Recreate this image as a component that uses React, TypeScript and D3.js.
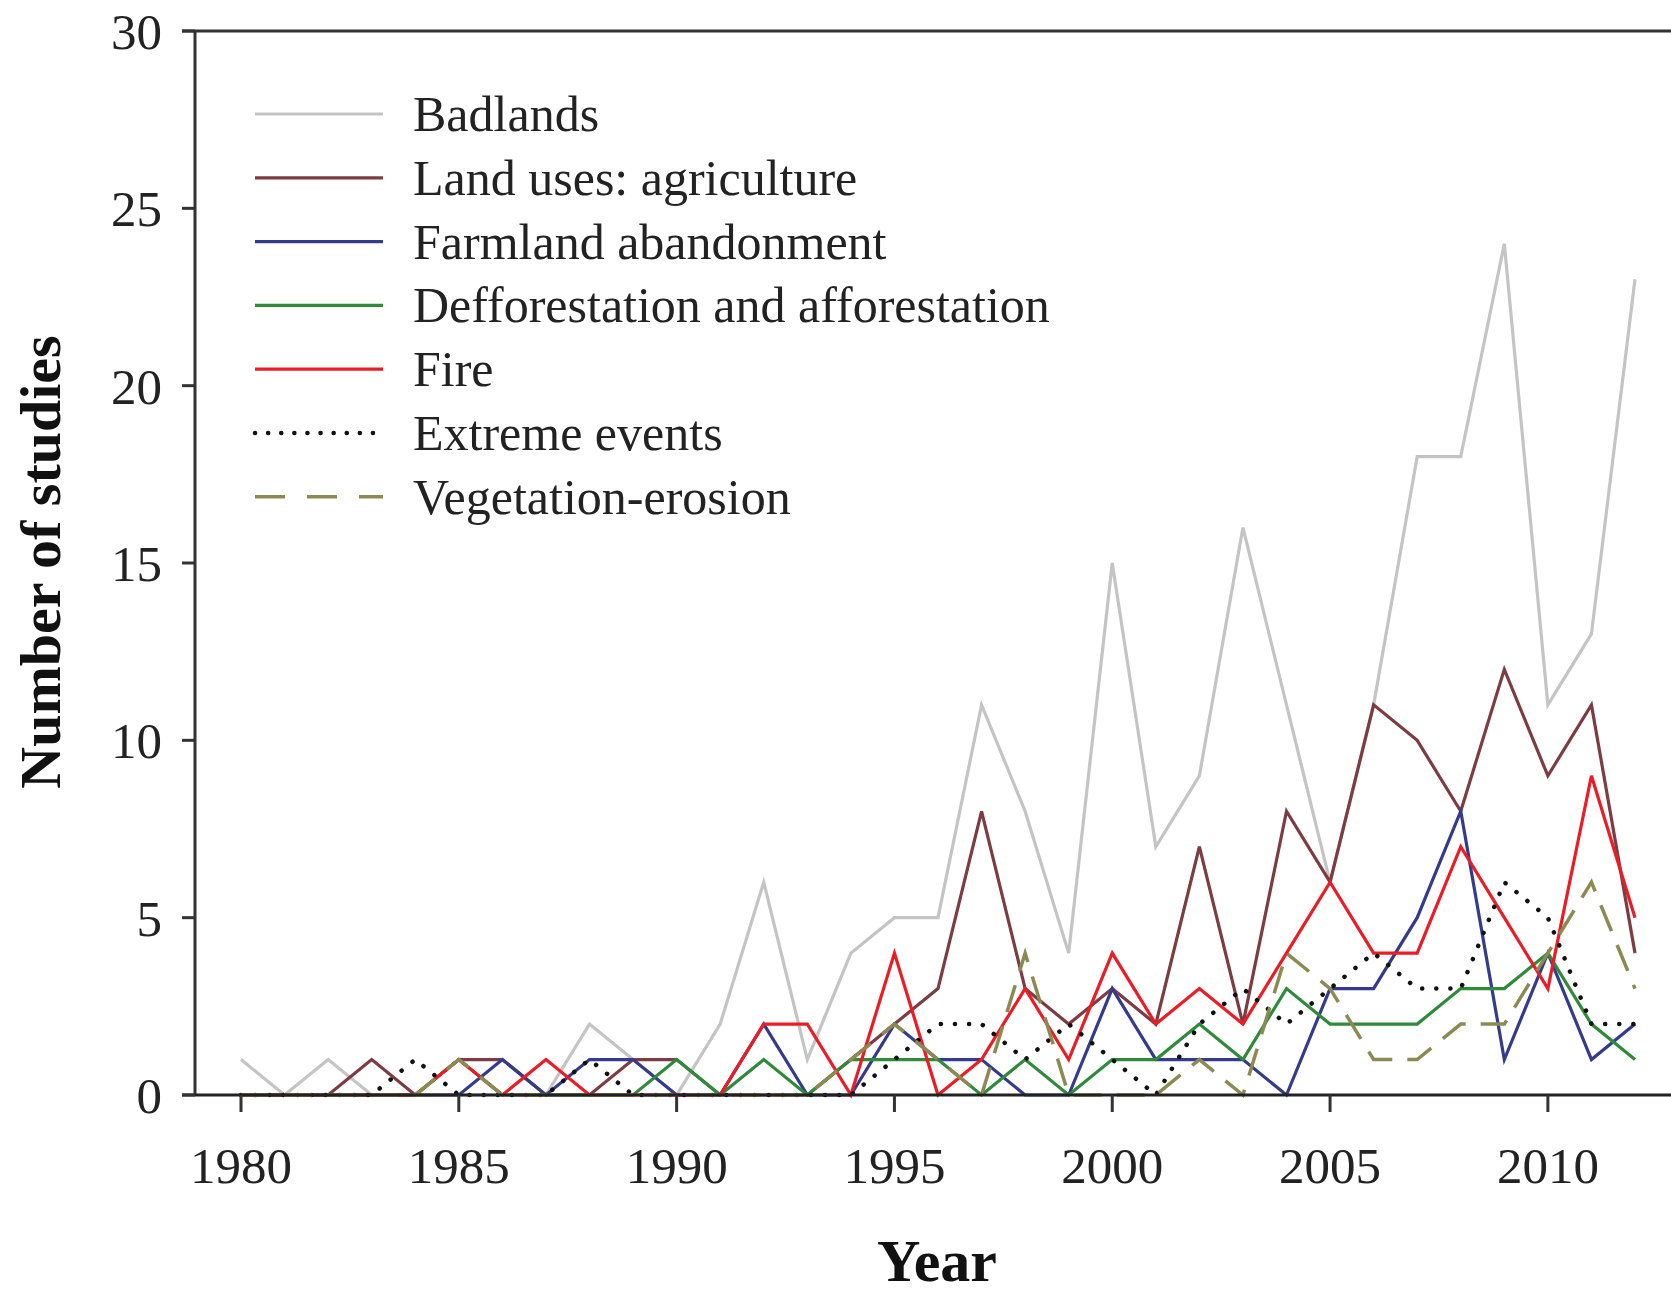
import React from 'react'
import * as d3 from 'd3'

const years = d3.range(1980, 2013)

const badlands = [1, 0, 1, 0, 0, 0, 0, 0, 2, 1, 0, 2, 6, 1, 4, 5, 5, 11, 8, 4, 15, 7, 9, 16, 11, 6, 11, 18, 18, 24, 11, 13, 23]
const agriculture = [0, 0, 0, 1, 0, 1, 1, 0, 0, 1, 1, 0, 0, 0, 1, 2, 3, 8, 3, 2, 3, 2, 7, 2, 8, 6, 11, 10, 8, 12, 9, 11, 4]
const abandonment = [0, 0, 0, 0, 0, 0, 1, 0, 1, 1, 0, 0, 2, 0, 0, 2, 1, 1, 0, 0, 3, 1, 1, 1, 0, 3, 3, 5, 8, 1, 4, 1, 2]
const forestation = [0, 0, 0, 0, 0, 1, 0, 0, 0, 0, 1, 0, 1, 0, 1, 1, 1, 0, 1, 0, 1, 1, 2, 1, 3, 2, 2, 2, 3, 3, 4, 2, 1]
const fire = [0, 0, 0, 0, 0, 1, 0, 1, 0, 0, 0, 0, 2, 2, 0, 4, 0, 1, 3, 1, 4, 2, 3, 2, 4, 6, 4, 4, 7, 5, 3, 9, 5]
const extreme = [0, 0, 0, 0, 1, 0, 0, 0, 1, 0, 0, 0, 0, 0, 0, 1, 2, 2, 1, 2, 1, 0, 2, 3, 2, 3, 4, 3, 3, 6, 5, 2, 2]
const vegetation = [0, 0, 0, 0, 0, 1, 0, 0, 0, 0, 0, 0, 0, 0, 1, 2, 1, 0, 4, 0, 0, 0, 1, 0, 4, 3, 1, 1, 2, 2, 4, 6, 3]

const xTicks = [1980, 1985, 1990, 1995, 2000, 2005, 2010]
const yTicks = [0, 5, 10, 15, 20, 25, 30]

const series = [
  { name: 'Badlands', values: badlands, color: '#c4c4c4', dash: null },
  { name: 'Land uses: agriculture', values: agriculture, color: '#7c3c42', dash: null },
  { name: 'Farmland abandonment', values: abandonment, color: '#353b8c', dash: null },
  { name: 'Defforestation and afforestation', values: forestation, color: '#2f8a3a', dash: null },
  { name: 'Fire', values: fire, color: '#ec1c24', dash: null },
  { name: 'Extreme events', values: extreme, color: '#111111', dash: 'dot' },
  { name: 'Vegetation-erosion', values: vegetation, color: '#8c8a52', dash: 'dash' },
]

const W = 1671
const H = 1291
const font = '"Liberation Serif", "Times New Roman", serif'

export default function App() {
  const x = d3.scaleLinear().domain([1980, 2012]).range([241, 1635])
  const y = d3.scaleLinear().domain([0, 30]).range([1095, 31])

  const line = d3.line<number>()
    .x((d, i) => x(years[i]))
    .y(d => y(d))

  const strokeProps = (s) => {
    if (s.dash === 'dot') return { strokeDasharray: '0.1 14', strokeLinecap: 'round' as const, strokeWidth: 4.5 }
    if (s.dash === 'dash') return { strokeDasharray: '28 15', strokeLinecap: 'butt' as const, strokeWidth: 3.5 }
    return { strokeWidth: 3.2 }
  }

  const axisLeft = 195

  return (
    <svg width={W} height={H} style={{ position: 'absolute', left: 0, top: 0, background: '#fff' }}>
      {/* data */}
      {series.map(s => (
        <path key={s.name} d={line(s.values) || ''} fill="none" stroke={s.color}
          strokeLinejoin="miter" {...strokeProps(s)} />
      ))}

      {/* frame */}
      <line x1={axisLeft} x2={axisLeft} y1={y(30)} y2={y(0)} stroke="#333" strokeWidth={3} />
      <line x1={axisLeft - 13} x2={W} y1={y(30)} y2={y(30)} stroke="#333" strokeWidth={3} />
      <line x1={axisLeft - 13} x2={W} y1={y(0)} y2={y(0)} stroke="#222" strokeWidth={3} />

      {/* y ticks */}
      {yTicks.map(t => (
        <g key={t}>
          <line x1={axisLeft - 13} x2={axisLeft} y1={y(t)} y2={y(t)} stroke="#333" strokeWidth={3} />
          <text x={162} y={y(t)} dy="0.35em" textAnchor="end" fontFamily={font} fontSize={51} fill="#222">{t}</text>
        </g>
      ))}

      {/* x ticks */}
      {xTicks.map(t => (
        <g key={t}>
          <line x1={x(t)} x2={x(t)} y1={y(0)} y2={y(0) + 17} stroke="#333" strokeWidth={3} />
          <text x={x(t)} y={1183} textAnchor="middle" fontFamily={font} fontSize={51} fill="#222">{t}</text>
        </g>
      ))}

      {/* axis titles */}
      <text transform={`translate(60, 562) rotate(-90)`} textAnchor="middle" fontFamily={font}
        fontWeight="bold" fontSize={58} fill="#111">Number of studies</text>
      <text x={937} y={1281} textAnchor="middle" fontFamily={font} fontWeight="bold" fontSize={60} fill="#111">Year</text>

      {/* legend */}
      {series.map((s, i) => {
        const ly = 114 + i * 63.8
        return (
          <g key={s.name}>
            <line x1={255} x2={383} y1={ly} y2={ly} stroke={s.color} {...strokeProps(s)}
              strokeDasharray={s.dash === 'dot' ? '0.1 13' : s.dash === 'dash' ? '30 22' : undefined} />
            <text x={413} y={ly + 17} fontFamily={font} fontSize={50} fill="#222">{s.name}</text>
          </g>
        )
      })}
    </svg>
  )
}
